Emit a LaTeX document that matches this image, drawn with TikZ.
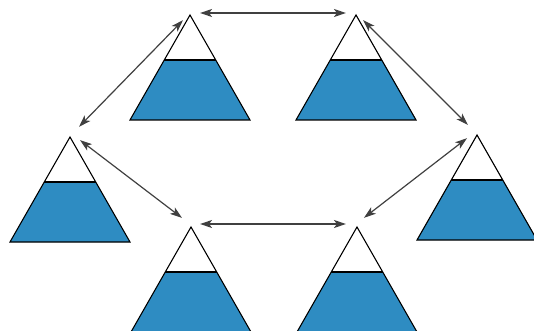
\documentclass[tikz,border=0pt]{standalone}
\usepackage{tikz}
\usetikzlibrary{arrows.meta}

\begin{document}
\begin{tikzpicture}[
  x=1pt, y=-1pt,
  line width=1.1pt,
  apex/.style={circle, inner sep=0pt, minimum size=19pt},
  arr/.style={{Stealth[length=12pt,width=8pt,inset=3pt]}-{Stealth[length=12pt,width=8pt,inset=3pt]},
              draw=black!75, line width=1.2pt},
  water/.style={fill={rgb,255:red,46;green,140;blue,194}},
  berg/.pic={
    \fill[water] (-25.7,45) -- (25.7,45) -- (60,105) -- (-60,105) -- cycle;
    \draw[line join=miter] (0,0) -- (60,105) -- (-60,105) -- cycle;
    \draw (-25.7,45) -- (25.7,45);
  }
]
\useasboundingbox (0,0) rectangle (534,331);

% Six flasks, apex positions.
\pic at (190,15)  {berg};
\pic at (356,15)  {berg};
\pic at (70,137)  {berg};
\pic at (477,135) {berg};
\pic at (191,227) {berg};
\pic at (357,227) {berg};

\node[apex] (tl) at (190,13)  {};
\node[apex] (tr) at (356,13)  {};
\node[apex] (ml) at (72,134)  {};
\node[apex] (mr) at (475,132) {};
\node[apex] (bl) at (190,224) {};
\node[apex] (br) at (356,224) {};

% Exchange arrows round the ring.
\draw[arr] (tl) -- (tr);
\draw[arr] (tl) -- (ml);
\draw[arr] (tr) -- (mr);
\draw[arr] (ml) -- (bl);
\draw[arr] (mr) -- (br);
\draw[arr] (bl) -- (br);
\end{tikzpicture}
\end{document}
